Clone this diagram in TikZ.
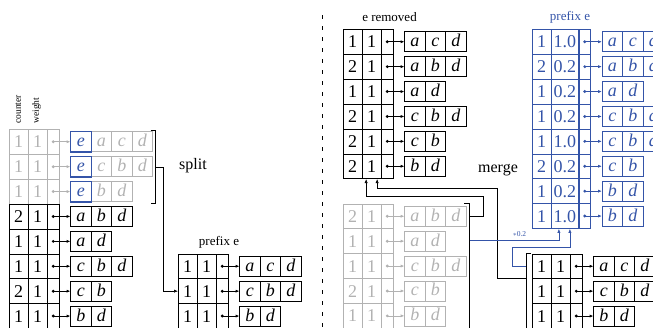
\documentclass[tikz,border=0pt]{standalone}
\usepackage{fontspec}
\setmainfont{Liberation Serif}
\usetikzlibrary{arrows.meta}

\definecolor{eblue}{RGB}{52,84,168}
\definecolor{lgray}{RGB}{178,178,178}

\newcommand\cfnt{\fontsize{18}{20}\selectfont}
\newcommand\ifnt{\fontsize{18}{20}\selectfont\itshape}

\tikzset{
  cellbox/.style={draw, rectangle, inner sep=0pt, minimum width=18.5pt,
    minimum height=24.9pt, anchor=north west, font=\cfnt,
    text height=12.2pt, text depth=0pt},
  itembox/.style={draw, rectangle, inner sep=0pt, minimum width=20.5pt,
    minimum height=20pt, anchor=west, font=\ifnt,
    text height=10pt, text depth=0pt},
  ebox/.style={itembox, draw=eblue, text=eblue},
  ptrarrow/.style={-{Latex[length=3.6pt,width=3pt]}, line width=0.6pt},
  conn/.style={-{Latex[length=4pt,width=3.2pt]}},
  bconn/.style={conn, eblue},
  biglbl/.style={inner sep=0pt, font=\fontsize{16}{18}\selectfont},
  lbl/.style={inner sep=0pt, font=\fontsize{13}{15}\selectfont},
  collbl/.style={inner sep=0pt, font=\fontsize{9.5}{11}\selectfont, rotate=90, anchor=west},
}

% one table row: counter cell, weight cell, pointer cell and the item list
% #1 name, #2 x, #3 top y, #4 counter, #5 weight, #6 weight column width, #7 style/item list
\newcommand\tabrow[7]{%
  \node[cellbox] (#1c) at (#2,#3) {#4};
  \node[cellbox, minimum width=#6] (#1w) at (#1c.north east) {#5};
  \node[cellbox, minimum width=11.5pt] (#1p) at (#1w.north east) {};
  \foreach \st/\l [count=\k] in {#7}{%
    \node[\st] (#1i\k) at ([xshift={11+(\k-1)*20.5}]#1p.east) {\l};
  }
  \fill (#1p.center) circle (1.6pt);
  \draw[ptrarrow] (#1p.center) -- (#1i1.west);
}

\begin{document}
\begin{tikzpicture}[x=1pt, y=-1pt, line width=0.6pt]
\useasboundingbox (0,0) rectangle (653,327);
\clip (0,0) rectangle (653,327);

% ---------- left: splitting off the rows that start with e ----------
\node[collbl] (hcount) at (18.2,124) {counter};
\node[collbl] (hweight) at (36.7,124) {weight};

\begin{scope}[color=lgray]
  \tabrow{L1}{9}{129}{1}{1}{18.5pt}{ebox/e,itembox/a,itembox/c,itembox/d}
  \tabrow{L2}{9}{153.9}{1}{1}{18.5pt}{ebox/e,itembox/c,itembox/b,itembox/d}
  \tabrow{L3}{9}{178.8}{1}{1}{18.5pt}{ebox/e,itembox/b,itembox/d}
\end{scope}
\foreach \r in {L1,L2,L3}{\draw[eblue] (\r i1.south west) rectangle (\r i1.north east);}

\tabrow{L4}{9}{203.7}{2}{1}{18.5pt}{itembox/a,itembox/b,itembox/d}
\tabrow{L5}{9}{228.6}{1}{1}{18.5pt}{itembox/a,itembox/d}
\tabrow{L6}{9}{253.5}{1}{1}{18.5pt}{itembox/c,itembox/b,itembox/d}
\tabrow{L7}{9}{278.4}{2}{1}{18.5pt}{itembox/c,itembox/b}
\tabrow{L8}{9}{303.3}{1}{1}{18.5pt}{itembox/b,itembox/d}

% split bracket
\coordinate (sT) at (150.5,130);
\coordinate (sTc) at (155.5,130);
\coordinate (sBc) at (155.5,203.5);
\coordinate (sB) at (150.5,203.5);
\coordinate (sM) at (155.5,167);
\draw (sT) -- (sTc) -- (sBc) -- (sB);
\node[biglbl] (split) at (193,166) {split};

% prefix table (left)
\node[lbl] (prefL) at (219,242) {prefix e};
\tabrow{P1}{178}{253.5}{1}{1}{18.5pt}{itembox/a,itembox/c,itembox/d}
\tabrow{P2}{178}{278.4}{1}{1}{18.5pt}{itembox/c,itembox/b,itembox/d}
\tabrow{P3}{178}{303.3}{1}{1}{18.5pt}{itembox/b,itembox/d}

\draw[conn] (sM) -- ++(8,0) |- (P2c.west);

% divider
\draw[dash pattern=on 4pt off 7pt] (322,15) -- (322,335);

% ---------- right: merging back ----------
\node[lbl] (erem) at (389.5,17) {e removed};
\tabrow{E1}{343}{29}{1}{1}{18.5pt}{itembox/a,itembox/c,itembox/d}
\tabrow{E2}{343}{53.9}{2}{1}{18.5pt}{itembox/a,itembox/b,itembox/d}
\tabrow{E3}{343}{78.8}{1}{1}{18.5pt}{itembox/a,itembox/d}
\tabrow{E4}{343}{103.7}{2}{1}{18.5pt}{itembox/c,itembox/b,itembox/d}
\tabrow{E5}{343}{128.6}{2}{1}{18.5pt}{itembox/c,itembox/b}
\tabrow{E6}{343}{153.5}{2}{1}{18.5pt}{itembox/b,itembox/d}

\begin{scope}[color=lgray]
  \tabrow{G1}{343}{203.5}{2}{1}{18.5pt}{itembox/a,itembox/b,itembox/d}
  \tabrow{G2}{343}{228.4}{1}{1}{18.5pt}{itembox/a,itembox/d}
  \tabrow{G3}{343}{253.3}{1}{1}{18.5pt}{itembox/c,itembox/b,itembox/d}
  \tabrow{G4}{343}{278.2}{2}{1}{18.5pt}{itembox/c,itembox/b}
  \tabrow{G5}{343}{303.1}{1}{1}{18.5pt}{itembox/b,itembox/d}
\end{scope}

\begin{scope}[color=eblue]
  \node[lbl] (prefR) at (570,17) {prefix e};
  \tabrow{B1}{532}{29}{1}{1.0}{27pt}{itembox/a,itembox/c,itembox/d}
  \tabrow{B2}{532}{53.9}{2}{0.2}{27pt}{itembox/a,itembox/b,itembox/d}
  \tabrow{B3}{532}{78.8}{1}{0.2}{27pt}{itembox/a,itembox/d}
  \tabrow{B4}{532}{103.7}{1}{0.2}{27pt}{itembox/c,itembox/b,itembox/d}
  \tabrow{B5}{532}{128.6}{1}{1.0}{27pt}{itembox/c,itembox/b,itembox/d}
  \tabrow{B6}{532}{153.5}{2}{0.2}{27pt}{itembox/c,itembox/b}
  \tabrow{B7}{532}{178.4}{1}{0.2}{27pt}{itembox/b,itembox/d}
  \tabrow{B8}{532}{203.3}{1}{1.0}{27pt}{itembox/b,itembox/d}
\end{scope}

\tabrow{R1}{532}{253.5}{1}{1}{18.5pt}{itembox/a,itembox/c,itembox/d}
\tabrow{R2}{532}{278.4}{1}{1}{18.5pt}{itembox/c,itembox/b,itembox/d}
\tabrow{R3}{532}{303.3}{1}{1}{18.5pt}{itembox/b,itembox/d}

\node[biglbl] (merge) at (498,170) {merge};

% brackets round the two merged tables
\coordinate (gT) at (464,203.5);
\coordinate (gC) at (469.5,203.5);
\coordinate (gE) at (469.5,335);
\coordinate (gA) at (469.5,216);
\coordinate (gS) at (469.5,240.5);
\draw (gT) -- (gC) -- (gE);

\coordinate (rT) at (530.5,253.5);
\coordinate (rC) at (526,253.5);
\coordinate (rE) at (526,335);
\coordinate (rA) at (526,278);
\coordinate (rS) at (526,266);
\draw (rT) -- (rC) -- (rE);

% entry points under the result tables
\coordinate (inA) at ([xshift=-5.5pt]E6w.south);
\coordinate (inB) at ([xshift=5.5pt]E6w.south);
\coordinate (inC) at ([xshift=-6pt]B8w.south);
\coordinate (inD) at ([xshift=5pt]B8w.south);

\draw[conn] (gA) -| (483.5,196) -| (inA);
\draw[conn] (rA) -| (497,188) -| (inB);
\draw[bconn] (gS) -| (inC);
\draw[bconn] (rS) -| (512,247) -| (inD);

\node[inner sep=0pt, text=eblue, font=\fontsize{7.5}{8}\selectfont] (wlab) at (519.5,234) {$\ast$0.2};
\end{tikzpicture}
\end{document}
